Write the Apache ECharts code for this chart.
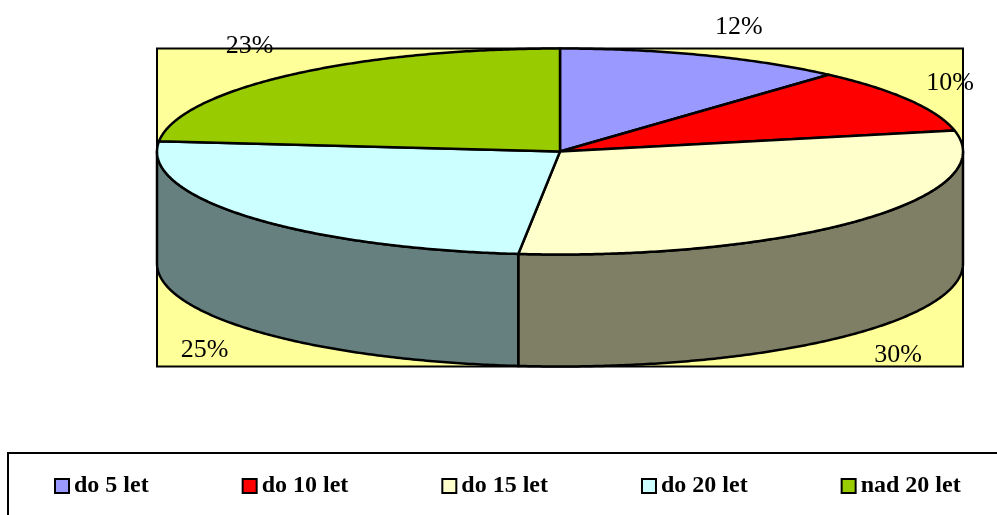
<!DOCTYPE html>
<html>
<head>
    <meta charset="UTF-8">
    <title>do 5 let / do 10 let / ...</title>
    <script src="https://cdn.jsdelivr.net/npm/echarts@6/dist/echarts.min.js"></script>
    <style>
        body {
            margin: 0;
            padding: 0;
            background: #fff;
        }

        #main {
            width: 997px;
            height: 515px;
        }
    </style>
</head>
<body>
<div id="main"></div>
<script>
    var categories = ['do 5 let', 'do 10 let', 'do 15 let', 'do 20 let', 'nad 20 let'];
    // shares, the labels are these rounded
    var shares = [11.6, 10.1, 29.9, 24.9, 23.4];
    var topColors = ['#9999FF', '#FF0000', '#FFFFCC', '#CCFFFF', '#99CC00'];
    // labels sit where excel dropped them, nudged off the rim point at the slice middle
    var labelNudge = [[35, -28], [41, -17], [39, 135], [-43, 134], [-40, -29]];

    // flattened pie: centre, radii of the top ellipse, height of the rim
    var cx = 560, cy = 151.5, rx = 403, ry = 103, depth = 112;

    var total = shares.reduce(function (a, b) { return a + b; }, 0);
    var starts = [];
    var acc = 0;
    for (var k = 0; k < shares.length; k++) {
        starts.push(acc);
        acc += shares[k];
    }

    function rim(deg, down) {
        var r = deg * Math.PI / 180;
        return [cx + rx * Math.sin(r), cy - ry * Math.cos(r) + (down || 0)];
    }

    function arc(a, b, down) {
        var n = Math.max(2, Math.ceil(Math.abs(b - a) * 2));
        var pts = [];
        for (var j = 0; j <= n; j++) {
            pts.push(rim(a + (b - a) * j / n, down));
        }
        return pts;
    }

    function darker(hex) {
        var c = parseInt(hex.slice(1), 16);
        var r = ((c >> 16) & 255) >> 1, g = ((c >> 8) & 255) >> 1, b = (c & 255) >> 1;
        return 'rgb(' + r + ',' + g + ',' + b + ')';
    }

    function renderSlice(params, api) {
        var i = params.seriesIndex;
        var v = api.value(0);
        var a = starts[i] / total * 360;
        var b = a + v / total * 360;
        var children = [];
        // only the front half of the rim shows
        var s = Math.max(a, 90), e = Math.min(b, 270);
        if (e > s) {
            children.push({
                type: 'polygon',
                shape: {points: arc(s, e, 0).concat(arc(e, s, depth))},
                style: {fill: darker(topColors[i]), stroke: '#000', lineWidth: 2.5, lineJoin: 'round'}
            });
        }
        children.push({
            type: 'polygon',
            shape: {points: [[cx, cy]].concat(arc(a, b, 0))},
            style: {fill: topColors[i], stroke: '#000', lineWidth: 2.5, lineJoin: 'round'}
        });
        var p = rim((a + b) / 2, 0);
        children.push({
            type: 'text',
            x: p[0] + labelNudge[i][0],
            y: p[1] + labelNudge[i][1],
            style: {
                text: Math.round(v / total * 100) + '%',
                fill: '#000',
                font: '26px "Liberation Serif"',
                align: 'center',
                verticalAlign: 'middle'
            }
        });
        return {type: 'group', children: children};
    }

    var series = [];
    for (var i = 0; i < categories.length; i++) {
        series.push({
            name: categories[i],
            type: 'custom',
            coordinateSystem: 'none',
            itemStyle: {color: topColors[i]},
            renderItem: renderSlice,
            data: [[shares[i]]]
        });
    }

    var chart = echarts.init(document.getElementById('main'), null, {renderer: 'canvas'});
    chart.setOption({
        animation: false,
        graphic: [
            {
                type: 'rect',
                z: 0,
                shape: {x: cx - rx, y: cy - ry, width: 2 * rx, height: 2 * ry + depth},
                style: {fill: '#FFFF99', stroke: '#000', lineWidth: 2}
            },
            {
                type: 'rect',
                z: 0,
                shape: {x: 8, y: 453, width: 1000, height: 100},
                style: {fill: '#fff', stroke: '#000', lineWidth: 2}
            }
        ],
        legend: {
            data: categories,
            left: 49,
            top: 469,
            icon: 'rect',
            itemWidth: 14,
            itemHeight: 14,
            itemGap: 93,
            selectedMode: false,
            itemStyle: {borderColor: '#000', borderWidth: 2},
            textStyle: {
                fontFamily: 'Liberation Serif',
                fontWeight: 'bold',
                fontSize: 24,
                color: '#000'
            }
        },
        series: series
    });
</script>
</body>
</html>
